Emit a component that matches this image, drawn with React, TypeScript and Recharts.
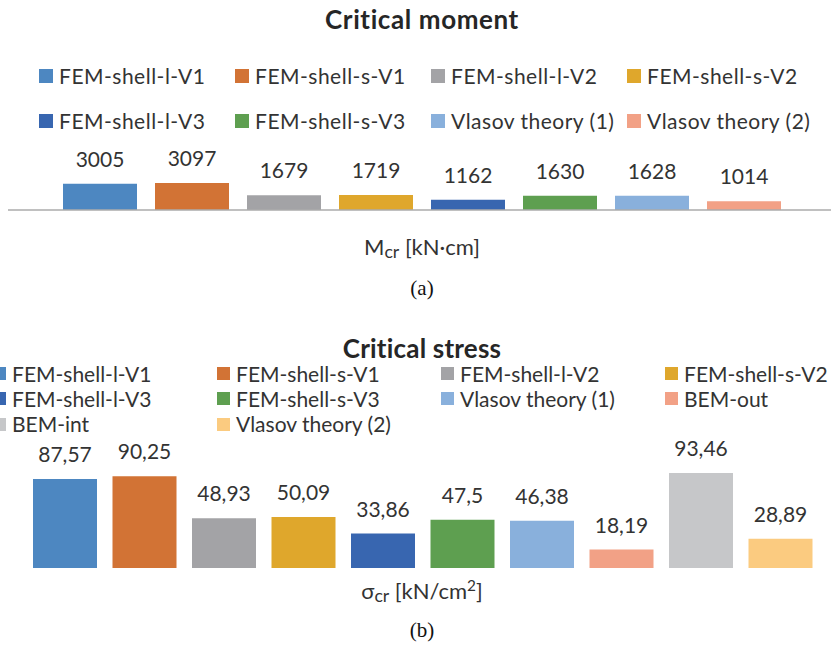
import React from 'react';
import { BarChart, Bar, XAxis, YAxis, LabelList } from 'recharts';

// ---------- data ----------
const momentTitle = 'Critical moment';
const momentCategory = 'Mcr';
const momentSeries = [
  'FEM-shell-l-V1',
  'FEM-shell-s-V1',
  'FEM-shell-l-V2',
  'FEM-shell-s-V2',
  'FEM-shell-l-V3',
  'FEM-shell-s-V3',
  'Vlasov theory (1)',
  'Vlasov theory (2)',
];
const momentValues = [3005, 3097, 1679, 1719, 1162, 1630, 1628, 1014];
const momentColors = ['#4D87C1', '#D27335', '#A3A3A6', '#DFA72C', '#3866B0', '#5E9F50', '#89B0DC', '#F2A186'];

const stressTitle = 'Critical stress';
const stressCategory = 'σcr';
const stressSeries = [
  'FEM-shell-l-V1',
  'FEM-shell-s-V1',
  'FEM-shell-l-V2',
  'FEM-shell-s-V2',
  'FEM-shell-l-V3',
  'FEM-shell-s-V3',
  'Vlasov theory (1)',
  'BEM-out',
  'BEM-int',
  'Vlasov theory (2)',
];
const stressValues = [87.57, 90.25, 48.93, 50.09, 33.86, 47.5, 46.38, 18.19, 93.46, 28.89];
const stressColors = [
  '#4D87C1', '#D27335', '#A3A3A6', '#DFA72C', '#3866B0',
  '#5E9F50', '#89B0DC', '#F2A186', '#C6C7C9', '#FBCB80',
];

const captionA = '(a)';
const captionB = '(b)';

// ---------- helpers ----------
const FONT = "Lato, 'Open Sans', sans-serif";
const TEXT = '#333333';

function makeRow(category: string, values: number[]) {
  const row: Record<string, any> = { name: category };
  values.forEach((v, i) => {
    row['s' + i] = v;
  });
  return row;
}

const momentData = [makeRow(momentCategory, momentValues)];
const stressData = [makeRow(stressCategory, stressValues)];

const commaFmt = (v: any) => String(v).replace('.', ',');

function HtmlLegend({
  names,
  colors,
  x0,
  pitch,
  rowCenters,
  sq,
  gap,
  spacing,
}: {
  names: string[];
  colors: string[];
  x0: number;
  pitch: number;
  rowCenters: number[];
  sq: number;
  gap: number;
  spacing: number;
}) {
  return (
    <>
      {names.map((n, i) => {
        const col = i % 4;
        const row = Math.floor(i / 4);
        const sx = x0 + col * pitch;
        const cy = rowCenters[row];
        return (
          <React.Fragment key={n + i}>
            <div
              style={{
                position: 'absolute',
                left: sx,
                top: cy - sq / 2,
                width: sq,
                height: sq,
                background: colors[i],
              }}
            />
            <div
              style={{
                position: 'absolute',
                left: sx + gap,
                top: cy - 11,
                fontSize: 21,
                lineHeight: 1,
                letterSpacing: spacing,
                whiteSpace: 'nowrap',
                color: TEXT,
                fontFamily: FONT,
              }}
            >
              {n}
            </div>
          </React.Fragment>
        );
      })}
    </>
  );
}

function CenterText({
  top,
  children,
  style,
}: {
  top: number;
  children: React.ReactNode;
  style?: React.CSSProperties;
}) {
  return (
    <div
      style={{
        position: 'absolute',
        left: 0,
        width: 844,
        top,
        textAlign: 'center',
        lineHeight: 1,
        whiteSpace: 'nowrap',
        color: TEXT,
        fontFamily: FONT,
        ...style,
      }}
    >
      {children}
    </div>
  );
}

export default function App() {
  return (
    <div
      style={{
        position: 'absolute',
        left: 0,
        top: 0,
        width: 831,
        height: 645,
        overflow: 'hidden',
        background: '#fff',
        fontFamily: FONT,
      }}
    >
      {/* ---------- (a) Critical moment ---------- */}
      <CenterText top={5.5} style={{ fontSize: 26, fontWeight: 700, color: '#262626', letterSpacing: 0.6 }}>
        {momentTitle}
      </CenterText>
      <HtmlLegend
        names={momentSeries}
        colors={momentColors}
        x0={39}
        pitch={196}
        rowCenters={[75.5, 121]}
        sq={14}
        gap={20}
        spacing={0.5}
      />
      <div style={{ position: 'absolute', left: 0, top: 130 }}>
        <BarChart
          width={836}
          height={82}
          data={momentData}
          margin={{ top: 10, right: 0, bottom: 0, left: 8 }}
          barCategoryGap={55}
          barGap={18}
          style={{ overflow: 'visible' }}
        >
          <XAxis
            dataKey="name"
            tick={false}
            tickLine={false}
            axisLine={{ stroke: '#ababab', strokeWidth: 1.5 }}
            height={2}
          />
          <YAxis hide domain={[0, 8000]} allowDataOverflow />
          {momentSeries.map((s, i) => (
            <Bar key={s} dataKey={'s' + i} name={s} fill={momentColors[i]} isAnimationActive={false}>
              <LabelList
                dataKey={'s' + i}
                position="top"
                offset={17}
                fill={TEXT}
                fontSize={21}
                fontFamily={FONT}
              />
            </Bar>
          ))}
        </BarChart>
      </div>
      <CenterText top={236} style={{ fontSize: 22 }}>
        M<span style={{ fontSize: '0.8em', position: 'relative', top: '0.18em' }}>cr</span> [kN·cm]
      </CenterText>
      <CenterText
        top={278}
        style={{ fontSize: 21, fontFamily: "'Liberation Serif', 'Times New Roman', serif", color: '#111' }}
      >
        {captionA}
      </CenterText>

      {/* ---------- (b) Critical stress ---------- */}
      <CenterText top={334.5} style={{ fontSize: 26, fontWeight: 700, color: '#262626', letterSpacing: 0.2 }}>
        {stressTitle}
      </CenterText>
      <HtmlLegend
        names={stressSeries}
        colors={stressColors}
        x0={-7}
        pitch={224}
        rowCenters={[373.7, 398.5, 424]}
        sq={13}
        gap={19}
        spacing={0}
      />
      <div style={{ position: 'absolute', left: 0, top: 436 }}>
        <BarChart
          width={831}
          height={132}
          data={stressData}
          margin={{ top: 10, right: 0, bottom: 0, left: 15 }}
          barCategoryGap={18}
          barGap={15.5}
          style={{ overflow: 'visible' }}
        >
          <XAxis dataKey="name" hide />
          <YAxis hide domain={[0, 120]} allowDataOverflow />
          {stressSeries.map((s, i) => (
            <Bar key={s} dataKey={'s' + i} name={s} fill={stressColors[i]} isAnimationActive={false}>
              <LabelList
                dataKey={'s' + i}
                position="top"
                offset={17}
                fill={TEXT}
                fontSize={21}
                fontFamily={FONT}
                formatter={commaFmt}
              />
            </Bar>
          ))}
        </BarChart>
      </div>
      <CenterText top={579.5} style={{ fontSize: 22 }}>
        σ<span style={{ fontSize: '0.8em', position: 'relative', top: '0.18em' }}>cr</span> [kN/cm
        <span style={{ fontSize: '0.7em', position: 'relative', top: '-0.5em' }}>2</span>]
      </CenterText>
      <CenterText
        top={620}
        style={{ fontSize: 21, fontFamily: "'Liberation Serif', 'Times New Roman', serif", color: '#111' }}
      >
        {captionB}
      </CenterText>
    </div>
  );
}
